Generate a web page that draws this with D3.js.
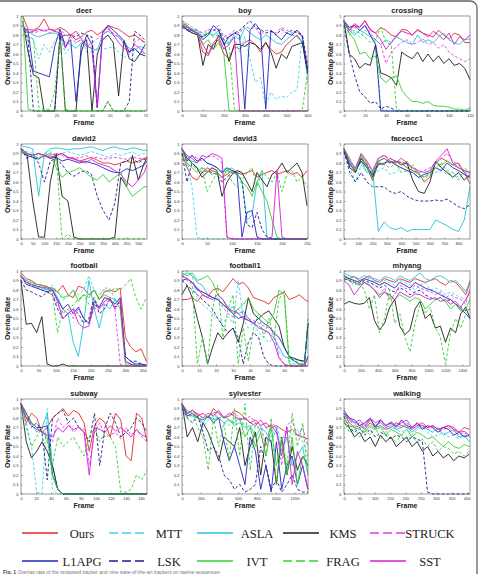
<!DOCTYPE html>
<meta charset="utf-8">
<title>Overlap rate per sequence</title>
<style>
  body { margin: 0; background: #fff; }
  text { font-family: "Liberation Sans", Arial, sans-serif; }
  .tick text { font-size: 4px; fill: #333; }
  .tick line { stroke: #444; stroke-width: 0.5px; }
  text.ptitle { font-size: 7.5px; font-weight: bold; text-anchor: middle; fill: #222; }
  text.alabel { font-size: 7px; font-weight: bold; text-anchor: middle; fill: #222; }
  text.legend { font-family: "Liberation Serif", "Times New Roman", serif; font-size: 12.5px; fill: #222; text-anchor: middle; }
  text.caption { font-size: 5px; fill: #777; }
</style>
<script src="https://d3js.org/d3.v7.min.js"></script>
<div id="chart"></div>
<script>

// series (legend order)
var seriesNames = ["Ours","MTT","ASLA","KMS","STRUCK","L1APG","LSK","IVT","FRAG","SST"];
var seriesColors = ["#e42a2a","#3fd6e6","#22c6d6","#1e1e1e","#e03ee6","#2222c4","#1c1c8c","#34cf34","#34cf34","#d41fd4"];
var seriesDashed = [false,true,false,false,true,false,true,false,true,false];

var yTicks = [0,0.1,0.2,0.3,0.4,0.5,0.6,0.7,0.8,0.9,1];

// ---- deer ----
var deerFrames = [1,4,7,10,13,16,19,22,25,28,31,34,37,40,43,46,49,52,55,58,61,64,67,70];
var deerTicks = [0,10,20,30,40,50,60,70];
var deerValues = [
  [1.0,0.86,0.85,0.88,0.97,0.86,0.85,0.88,0.85,0.8,0.75,0.78,0.83,0.85,0.8,0.84,0.9,0.88,0.86,0.82,0.78,0.8,0.76,0.72],
  [0.8,0.78,0.75,0.55,0.7,0.62,0.74,0.8,0.6,0.68,0.72,0.75,0.62,0.62,0.66,0.65,0.66,0.68,0.62,0.56,0.6,0.64,0.62,0.6],
  [0.9,0.84,0.8,0.78,0.8,0.82,0.82,0.8,0.72,0.7,0.66,0.72,0.68,0.66,0.64,0.8,0.84,0.8,0.78,0.72,0.66,0.64,0.68,0.66],
  [0.95,0.62,0.38,0.35,0,0,0,0.82,0,0,0,0.7,0.75,0,0.6,0.75,0.8,0.72,0.16,0.74,0.55,0.52,0.6,0.58],
  [0.9,0.85,0.82,0.84,0.86,0.82,0.84,0.86,0.8,0.78,0.72,0.75,0.68,0.72,0.76,0.8,0.86,0.82,0.78,0.7,0.6,0.72,0.76,0.7],
  [0.88,0.84,0.42,0.4,0.38,0.36,0.68,0.86,0.68,0.75,0.1,0.62,0.8,0.7,0.04,0.82,0.9,0.85,0.8,0.74,0.62,0.66,0.6,0.7],
  [0.9,0.75,0,0,0,0,0,0.78,0.8,0.8,0.78,0.82,0.8,0.78,0,0,0.1,0,0,0,0.1,0.84,0.8,0.74],
  [1.0,0.02,0,0,0,0,0,0,0,0,0,0,0,0,0,0,0,0,0,0,0,0,0,0],
  [0.9,0.78,0.76,0.04,0.02,0.02,0.2,0.76,0.02,0,0,0,0,0,0,0,0.1,0,0,0,0,0,0,0],
  [0.86,0.82,0.84,0.86,0.84,0.86,0.84,0.82,0.66,0.8,0.84,0.76,0.7,0.65,0.05,0.84,0.88,0.8,0.72,0.66,0.62,0.7,0.66,0.6]
];

// ---- boy ----
var boyFrames = [0,25,50,75,100,125,150,175,200,225,250,275,300,325,350,375,400,425,450,475,500,525,550,575,600];
var boyTicks = [0,100,200,300,400,500,600];
var boyValues = [
  [0.92,0.9,0.85,0.8,0.62,0.58,0.7,0.75,0.6,0.55,0.68,0.65,0.72,0.75,0.7,0.62,0.72,0.65,0.6,0.62,0.7,0.75,0.8,0.72,0.45],
  [0.95,0.88,0.85,0.82,0.78,0.85,0.8,0.82,0.74,0.72,0.78,0.62,0.78,0.55,0.3,0.35,0.06,0.2,0.12,0.16,0.14,0.2,0.22,0.8,0.3],
  [0.9,0.88,0.86,0.84,0.78,0.82,0.8,0.85,0.7,0.72,0.8,0.75,0.88,0.82,0.78,0.75,0.8,0.76,0.72,0.7,0.75,0.8,0.78,0.72,0.4],
  [0.9,0.85,0.82,0.8,0.48,0.7,0.65,0.8,0.72,0.52,0.7,0.7,0.68,0.72,0.7,0.65,0.72,0.62,0.45,0.6,0.55,0.68,0.7,0.72,0.4],
  [0.92,0.88,0.86,0.85,0.82,0.86,0.85,0.9,0.78,0.8,0.85,0.82,0.9,0.86,0.88,0.8,0.85,0.84,0.82,0.88,0.85,0.82,0.85,0.8,0.5],
  [0.9,0.86,0.84,0.82,0.75,0.8,0.9,0.85,0.7,0.78,0.82,0.8,0.02,0.85,0.92,0.85,0.02,0.85,0.8,0.75,0.82,0.8,0.85,0.78,0.42],
  [0.88,0.85,0.82,0.8,0.78,0.82,0.85,0.86,0.75,0.78,0.82,0.85,0.9,0.95,0.88,0.86,0.82,0.84,0.8,0.86,0.82,0.85,0.82,0.8,0.45],
  [0.95,0.9,0.85,0.8,0.7,0.75,0.65,0.72,0.6,0,0,0,0,0,0,0,0,0,0,0,0,0,0,0,0],
  [0.95,0.92,0.88,0.85,0.8,0.82,0.78,0.8,0.75,0.7,0.02,0,0,0,0,0,0,0,0,0,0,0,0,0.02,0.4],
  [0.9,0.88,0.85,0.82,0.7,0.6,0.72,0.78,0.65,0.7,0.78,0,0,0,0,0,0,0,0,0,0,0,0,0,0]
];

// ---- crossing ----
var crossingFrames = [0,5,10,15,20,25,30,35,40,45,50,55,60,65,70,75,80,85,90,95,100,105,110,115,120];
var crossingTicks = [0,20,40,60,80,100,120];
var crossingValues = [
  [0.95,0.85,0.92,0.88,0.95,0.85,0.82,0.88,0.85,0.8,0.78,0.86,0.85,0.8,0.86,0.82,0.8,0.78,0.85,0.8,0.76,0.82,0.8,0.72,0.72],
  [0.95,0.88,0.82,0.78,0.85,0.8,0.72,0.02,0,0,0,0,0,0,0,0,0,0,0,0,0,0,0,0,0],
  [0.95,0.85,0.8,0.85,0.82,0.78,0.75,0.7,0.75,0.72,0.78,0.75,0.72,0.7,0.8,0.72,0.75,0.72,0.78,0.82,0.75,0.72,0.7,0.75,0.76],
  [0.95,0.6,0.55,0.45,0.5,0.48,0.7,0.4,0.38,0.35,0.27,0.62,0.58,0.55,0.62,0.52,0.6,0.52,0.58,0.5,0.55,0.48,0.5,0.45,0.33],
  [0.95,0.82,0.88,0.85,0.9,0.82,0.75,0.7,0.5,0.62,0.68,0.72,0.75,0.7,0.72,0.76,0.7,0.72,0.66,0.7,0.62,0.58,0.55,0.52,0.55],
  [0.95,0.88,0.9,0.85,0.9,0.8,0.7,0,0,0,0,0,0,0,0,0,0,0,0,0,0,0,0,0,0],
  [0.9,0.6,0.38,0.2,0.15,0.08,0.1,0.02,0.05,0.03,0,0,0,0,0,0,0,0,0,0,0,0,0,0,0],
  [0.95,0.82,0.75,0.6,0.62,0.55,0.58,0.35,0.3,0.35,0.37,0.22,0.15,0.1,0.1,0.08,0.1,0.06,0.05,0.05,0.04,0.02,0.02,0.01,0.03],
  [0.95,0.8,0.85,0.82,0.78,0.72,0.75,0.88,0.72,0.7,0.02,0,0,0,0,0,0,0,0,0,0,0,0,0,0],
  [0.95,0.85,0.9,0.88,0.95,0.86,0.82,0.75,0.65,0.72,0.8,0.84,0.82,0.8,0.85,0.82,0.78,0.84,0.8,0.75,0.82,0.7,0.78,0.75,0.8]
];

// ---- david2 ----
var david2Frames = [0,25,50,75,100,125,150,175,200,225,250,275,300,325,350,375,400,425,450,475,500,525,537];
var david2Ticks = [0,50,100,150,200,250,300,350,400,450,500];
var david2Values = [
  [0.92,0.9,0.88,0.9,0.88,0.85,0.88,0.9,0.86,0.85,0.82,0.84,0.86,0.83,0.8,0.8,0.78,0.8,0.82,0.8,0.82,0.85,0.86],
  [0.95,0.92,0.9,0.88,0.9,0.92,0.88,0.9,0.92,0.9,0.88,0.9,0.92,0.9,0.88,0.86,0.9,0.88,0.9,0.92,0.88,0.9,0.9],
  [0.98,0.97,0.95,0.45,0.9,0.95,0.96,0.95,0.94,0.95,0.95,0.96,0.97,0.95,0.93,0.96,0.97,0.95,0.94,0.96,0.95,0.93,0.94],
  [0.95,0.9,0.4,0.02,0.02,0.6,0.9,0.45,0.4,0.02,0,0,0,0,0,0,0.02,0.65,0.55,0.88,0.62,0.8,0.85],
  [0.95,0.9,0.88,0.9,0.86,0.88,0.9,0.88,0.85,0.86,0.85,0.88,0.85,0.86,0.84,0.85,0.86,0.85,0.84,0.86,0.85,0.84,0.85],
  [0.92,0.88,0.86,0.84,0.88,0.85,0.86,0.82,0.84,0.82,0.8,0.82,0.8,0.78,0.75,0.72,0.7,0.7,0.74,0.72,0.75,0.78,0.82],
  [0.95,0.85,0.88,0.8,0.6,0.82,0.85,0.78,0.7,0.66,0.7,0.72,0.68,0.45,0.3,0.2,0.38,0.8,0.82,0.85,0.8,0.84,0.82],
  [0.92,0.9,0.88,0.85,0.88,0.9,0.75,0.65,0.7,0.72,0.75,0.7,0.65,0.62,0.68,0.6,0.65,0.7,0.55,0.45,0.5,0.55,0.55],
  [0.92,0.9,0.88,0.85,0.88,0.9,0.88,0,0.05,0,0,0,0,0,0,0,0,0,0,0,0,0,0],
  [0.95,0.9,0.88,0.9,0.88,0.86,0.88,0.9,0.86,0.84,0.82,0.8,0.84,0.8,0.78,0.76,0.72,0.68,0.6,0.55,0.62,0.7,0.78]
];

// ---- david3 ----
var david3Frames = [0,10,20,30,40,50,60,70,80,90,100,110,120,130,140,150,160,170,180,190,200,210,220,230,240,250];
var david3Ticks = [0,50,100,150,200,250];
var david3Values = [
  [0.9,0.75,0.65,0.62,0.7,0.75,0.72,0.7,0.65,0.68,0.72,0.7,0.68,0.7,0.72,0.65,0.68,0.7,0.72,0.68,0.7,0.72,0.68,0.7,0.65,0.72],
  [0.95,0.8,0.55,0.02,0,0,0,0,0,0,0,0,0,0,0,0,0,0,0,0,0,0,0,0,0,0],
  [0.95,0.85,0.82,0.8,0.85,0.8,0.78,0.75,0.7,0.72,0.75,0.7,0.6,0.2,0.25,0.6,0.72,0.02,0,0,0,0,0,0,0,0],
  [0.95,0.85,0.8,0.75,0.65,0.7,0.75,0.72,0.45,0.6,0.68,0.72,0.7,0.6,0.5,0.7,0.62,0.55,0.68,0.72,0.8,0.7,0.75,0.8,0.7,0.35],
  [0.95,0.85,0.88,0.85,0.82,0.86,0.88,0.85,0.8,0.02,0,0,0,0,0,0,0,0,0,0,0,0,0,0,0,0],
  [0.95,0.82,0.88,0.82,0.85,0.8,0.78,0.75,0.7,0.75,0.72,0.7,0.02,0.28,0.3,0.02,0,0,0,0,0,0,0,0,0,0],
  [0.9,0.6,0.8,0.75,0.7,0.72,0.7,0.68,0.6,0.65,0.7,0.68,0.62,0.15,0.12,0.28,0.1,0.02,0,0,0,0,0,0,0,0],
  [0.95,0.8,0.75,0.7,0.75,0.72,0.68,0.7,0.65,0.72,0.7,0.68,0.6,0.55,0.45,0.6,0.5,0.4,0.2,0.02,0,0,0,0,0,0],
  [0.95,0.75,0.8,0.72,0.75,0.5,0.6,0.7,0.72,0.75,0.6,0.55,0.62,0.7,0.75,0.55,0.72,0.65,0.6,0.7,0.5,0.68,0.72,0.6,0.65,0.55],
  [0.95,0.88,0.85,0.8,0.88,0.86,0.9,0.88,0.85,0.02,0,0,0,0,0,0,0,0,0.02,0.72,0.02,0,0,0,0,0]
];

// ---- faceocc1 ----
var faceocc1Frames = [0,40,80,120,160,200,240,280,320,360,400,440,480,520,560,600,640,680,720,760,800,840,880];
var faceocc1Ticks = [0,100,200,300,400,500,600,700,800];
var faceocc1Values = [
  [0.95,0.8,0.7,0.85,0.75,0.62,0.8,0.78,0.85,0.82,0.8,0.75,0.72,0.7,0.6,0.65,0.8,0.85,0.82,0.78,0.8,0.7,0.58],
  [0.92,0.75,0.6,0.78,0.7,0.7,0.72,0.75,0.68,0.7,0.75,0.72,0.7,0.65,0.62,0.68,0.7,0.72,0.68,0.7,0.65,0.7,0.62],
  [0.95,0.8,0.72,0.82,0.7,0.72,0.08,0.18,0.12,0.1,0.12,0.08,0.1,0.1,0.1,0.1,0.2,0.17,0.14,0.1,0.08,0.2,0.55],
  [0.95,0.75,0.7,0.85,0.78,0.65,0.82,0.85,0.8,0.82,0.78,0.8,0.62,0.5,0.48,0.6,0.82,0.75,0.7,0.65,0.7,0.62,0.68],
  [0.95,0.8,0.75,0.88,0.8,0.7,0.85,0.88,0.85,0.8,0.82,0.78,0.75,0.7,0.72,0.75,0.8,0.85,0.9,0.82,0.78,0.7,0.68],
  [0.92,0.78,0.72,0.82,0.75,0.68,0.78,0.8,0.82,0.78,0.75,0.72,0.7,0.65,0.68,0.7,0.75,0.72,0.8,0.75,0.72,0.68,0.65],
  [0.92,0.7,0.6,0.7,0.6,0.55,0.55,0.55,0.5,0.48,0.5,0.45,0.42,0.4,0.4,0.4,0.41,0.4,0.42,0.38,0.34,0.32,0.36],
  [0.95,0.85,0.72,0.88,0.75,0.7,0.82,0.85,0.8,0.82,0.78,0.82,0.72,0.68,0.65,0.7,0.8,0.78,0.82,0.78,0.75,0.72,0.7],
  [0.95,0.8,0.72,0.9,0.8,0.6,0.82,0.78,0.75,0.8,0.7,0.72,0.78,0.7,0.65,0.68,0.75,0.8,0.72,0.7,0.62,0.75,0.7],
  [0.95,0.82,0.75,0.9,0.82,0.72,0.85,0.88,0.82,0.8,0.85,0.8,0.75,0.72,0.7,0.72,0.82,0.88,0.95,0.8,0.75,0.72,0.7]
];

// ---- football ----
var footballFrames = [0,15,30,45,60,75,90,105,120,135,150,165,180,195,210,225,240,255,270,285,300,315,330,345,360];
var footballTicks = [0,50,100,150,200,250,300,350];
var footballValues = [
  [0.98,0.92,0.9,0.86,0.85,0.83,0.82,0.78,0.85,0.75,0.72,0.84,0.82,0.75,0.8,0.7,0.78,0.8,0.78,0.82,0.3,0.2,0.15,0.18,0.05],
  [0.95,0.9,0.88,0.85,0.82,0.8,0.85,0.78,0.7,0.72,0.8,0.75,0.8,0.95,0.8,0.75,0.82,0.82,0.7,0.65,0.05,0.02,0.02,0.03,0],
  [0.95,0.88,0.86,0.84,0.82,0.8,0.82,0.72,0.6,0.55,0.25,0.1,0.45,0.9,0.6,0.4,0.65,0.6,0.7,0.65,0.05,0.02,0,0.02,0.01],
  [0.9,0.44,0.45,0.35,0.52,0.02,0,0,0.02,0,0,0,0,0,0,0,0,0,0,0,0,0,0,0,0],
  [0.95,0.88,0.85,0.82,0.8,0.78,0.75,0.65,0.55,0.6,0.5,0.6,0.5,0.45,0.6,0.62,0.65,0.7,0.6,0.02,0,0,0,0,0],
  [0.95,0.86,0.84,0.82,0.8,0.78,0.8,0.7,0.6,0.65,0.55,0.62,0.5,0.45,0.68,0.62,0.72,0.7,0.65,0.72,0.1,0.05,0.02,0.02,0.01],
  [0.9,0.8,0.78,0.75,0.73,0.78,0.75,0.6,0.5,0.55,0.6,0.55,0.45,0.5,0.72,0.55,0.6,0.7,0.62,0.68,0.1,0.05,0.05,0.02,0],
  [0.95,0.9,0.88,0.86,0.85,0.84,0.8,0.78,0.72,0.74,0.8,0.68,0.75,0.72,0.8,0.7,0.75,0.72,0.7,0.6,0.02,0.02,0.01,0.01,0],
  [0.95,0.88,0.86,0.82,0.85,0.8,0.78,0.35,0.6,0.55,0.65,0.7,0.75,0.65,0.6,0.75,0.8,0.78,0.82,0.8,0.85,0.92,0.72,0.6,0.72],
  [0.95,0.88,0.86,0.84,0.83,0.82,0.8,0.68,0.5,0.55,0.6,0.45,0.4,0.42,0.65,0.6,0.68,0.72,0.6,0.7,0.05,0.02,0,0,0]
];

// ---- football1 ----
var football1Frames = [0,3,6,9,12,15,18,21,24,27,30,33,36,39,42,45,48,51,54,57,60,63,66,69,72,74];
var football1Ticks = [0,10,20,30,40,50,60,70];
var football1Values = [
  [0.7,0.7,0.72,0.68,0.75,0.72,0.8,0.82,0.78,0.85,0.92,0.86,0.88,0.82,0.72,0.7,0.68,0.65,0.72,0.75,0.78,0.7,0.72,0.75,0.7,0.68],
  [0.95,1.0,0.95,0.7,0.65,0.6,0.55,0.5,0.45,0.52,0.45,0.9,0.5,0.4,0.45,0.35,0.3,0.25,0.3,0.15,0.1,0.08,0.05,0.05,0.05,0.4],
  [0.95,0.98,0.95,0.88,0.85,0.75,0.72,0.7,0.65,0.6,0.62,0.55,0.58,0.5,0.45,0.42,0.38,0.35,0.3,0.2,0.1,0.08,0.07,0.06,0.05,0.45],
  [0.75,0.85,0.72,0.5,0.3,0.02,0.2,0.35,0.28,0.35,0.4,0.25,0.45,0.72,0.55,0.5,0.55,0.58,0.5,0.42,0.2,0.1,0.08,0.06,0.05,0.45],
  [0.95,0.9,0.88,0.82,0.78,0.75,0.72,0.7,0.62,0.55,0.52,0.6,0.55,0.5,0.48,0.45,0.42,0.4,0.35,0.1,0.02,0,0,0,0,0.1],
  [0.9,0.92,0.88,0.8,0.78,0.75,0.72,0.7,0.65,0.6,0.55,0.5,0.52,0.48,0.45,0.5,0.45,0.42,0.35,0.3,0.2,0.1,0.05,0.02,0.02,0.45],
  [0.9,0.85,0.8,0.75,0.7,0.65,0.6,0.5,0.42,0.35,0.4,0.3,0.02,0.25,0.35,0.3,0.1,0.02,0,0,0,0,0,0,0,0],
  [0.98,0.95,0.98,0.9,0.92,0.95,0.88,0.75,0.7,0.62,0.55,0.6,0.65,0.72,0.6,0.55,0.5,0.45,0.55,0.8,0.75,0.02,0,0,0,0.1],
  [0.95,0.92,0.85,0.02,0.3,0.02,0.6,0.85,0.3,0.6,0.75,0.02,0.4,0.05,0.4,0.55,0.3,0.5,0.3,0.7,0.8,0.05,0.02,0.02,0.02,0.5],
  [0.95,0.92,0.88,0.82,0.75,0.72,0.7,0.75,0.7,0.6,0.58,0.55,0.5,0.48,0.45,0.4,0.38,0.35,0.25,0.08,0.02,0,0,0,0,0.1]
];

// ---- mhyang ----
var mhyangFrames = [0,60,120,180,240,300,360,420,480,540,600,660,720,780,840,900,960,1020,1080,1140,1200,1260,1320,1380,1440,1490];
var mhyangTicks = [0,200,400,600,800,1000,1200,1400];
var mhyangValues = [
  [0.95,0.92,0.94,0.9,0.92,0.95,0.9,0.88,0.92,0.9,0.88,0.92,0.9,0.88,0.92,0.9,0.88,0.9,0.92,0.88,0.85,0.9,0.88,0.82,0.75,0.88],
  [0.95,0.92,0.9,0.88,0.9,0.92,0.88,0.85,0.9,0.88,0.85,0.9,0.88,0.85,0.8,0.85,0.88,0.8,0.82,0.8,0.75,0.78,0.75,0.72,0.7,0.8],
  [0.98,0.95,0.94,0.92,0.95,0.93,0.92,0.9,0.94,0.93,0.9,0.95,0.92,0.9,0.94,0.98,0.92,0.9,0.94,0.95,0.92,0.88,0.9,0.85,0.78,0.9],
  [0.65,0.68,0.66,0.65,0.66,0.72,0.48,0.38,0.45,0.62,0.7,0.42,0.33,0.38,0.6,0.68,0.5,0.55,0.4,0.42,0.25,0.4,0.35,0.55,0.62,0.5],
  [0.92,0.9,0.88,0.9,0.88,0.85,0.8,0.75,0.82,0.7,0.75,0.85,0.82,0.8,0.85,0.82,0.8,0.78,0.75,0.78,0.72,0.75,0.72,0.7,0.65,0.82],
  [0.95,0.92,0.9,0.88,0.92,0.9,0.88,0.85,0.88,0.85,0.82,0.88,0.85,0.82,0.88,0.85,0.82,0.8,0.78,0.75,0.72,0.7,0.65,0.6,0.55,0.5],
  [0.92,0.9,0.88,0.86,0.9,0.88,0.85,0.82,0.85,0.8,0.78,0.82,0.8,0.75,0.78,0.8,0.75,0.72,0.7,0.72,0.68,0.7,0.65,0.62,0.58,0.6],
  [0.95,0.9,0.88,0.85,0.88,0.85,0.8,0.75,0.78,0.72,0.7,0.75,0.72,0.68,0.72,0.7,0.6,0.65,0.7,0.72,0.68,0.6,0.65,0.58,0.6,0.7],
  [0.95,0.9,0.85,0.88,0.8,0.6,0.75,0.35,0.5,0.8,0.45,0.55,0.3,0.15,0.45,0.65,0.55,0.62,0.4,0.3,0.02,0.35,0.5,0.4,0.55,0.6],
  [0.9,0.85,0.75,0.82,0.88,0.85,0.8,0.72,0.78,0.75,0.7,0.78,0.75,0.72,0.76,0.75,0.72,0.7,0.72,0.68,0.7,0.65,0.68,0.62,0.7,0.78]
];

// ---- subway ----
var subwayFrames = [0,7,14,21,28,35,42,49,56,63,70,77,84,91,98,105,112,119,126,133,140,147,154,161,168];
var subwayTicks = [0,20,40,60,80,100,120,140,160];
var subwayValues = [
  [0.95,0.75,0.85,0.8,0.65,0.7,0.8,0.85,0.9,0.82,0.88,0.85,0.75,0.45,0.72,0.8,0.75,0.6,0.85,0.78,0.4,0.35,0.85,0.8,0.55],
  [0.95,0.75,0.5,0.02,0,0.9,0.05,0,0,0,0,0,0,0,0,0,0,0,0,0,0,0,0,0,0],
  [0.95,0.8,0.75,0.65,0.7,0.85,0.3,0.05,0,0,0,0,0,0,0,0,0,0,0,0,0,0,0,0,0],
  [0.95,0.55,0.38,0.45,0.55,0.45,0.3,0.05,0,0,0,0,0,0,0,0,0,0,0,0,0,0,0,0,0],
  [0.95,0.8,0.75,0.7,0.65,0.6,0.55,0.8,0.7,0.75,0.65,0.7,0.68,0.3,0.65,0.75,0.6,0.62,0.65,0.58,0.7,0.62,0.68,0.6,0.55],
  [0.95,0.85,0.75,0.7,0.7,0.72,0.2,0.05,0,0,0,0,0,0,0,0,0,0,0,0,0,0,0,0,0],
  [0.95,0.85,0.7,0.75,0.65,0.15,0.8,0.85,0.88,0.75,0.8,0.7,0.65,0.55,0.85,0.3,0.7,0.85,0.75,0.6,0.65,0.7,0.8,0.75,0.65],
  [0.95,0.85,0.75,0.7,0.65,0.6,0.2,0.05,0,0,0,0,0,0,0,0,0,0,0,0,0,0,0,0,0],
  [0.9,0.7,0.5,0.6,0.7,0.55,0.3,0.6,0.5,0.55,0.6,0.5,0.4,0.6,0.7,0.55,0.65,0.6,0.5,0.02,0.02,0.05,0.2,0.15,0.25],
  [0.95,0.8,0.72,0.68,0.65,0.62,0.6,0.7,0.65,0.72,0.68,0.7,0.65,0.2,0.7,0.68,0.65,0.72,0.66,0.7,0.65,0.6,0.68,0.62,0.6]
];

// ---- sylvester ----
var sylvesterFrames = [0,56,112,168,224,280,336,392,448,504,560,616,672,728,784,840,896,952,1008,1064,1120,1176,1232,1288,1344];
var sylvesterTicks = [0,200,400,600,800,1000,1200];
var sylvesterValues = [
  [0.95,0.85,0.88,0.82,0.85,0.8,0.9,0.85,0.8,0.82,0.88,0.85,0.8,0.75,0.78,0.72,0.75,0.7,0.72,0.68,0.65,0.68,0.62,0.6,0.58],
  [0.9,0.85,0.8,0.82,0.7,0.78,0.82,0.8,0.75,0.72,0.8,0.78,0.72,0.7,0.75,0.68,0.7,0.6,0.72,0.55,0.7,0.62,0.68,0.55,0.4],
  [0.9,0.85,0.82,0.8,0.75,0.82,0.78,0.8,0.75,0.78,0.72,0.75,0.7,0.72,0.6,0.7,0.65,0.55,0.68,0.45,0.6,0.3,0.4,0.5,0.2],
  [0.95,0.6,0.7,0.55,0.75,0.65,0.5,0.35,0.6,0.55,0.5,0.7,0.3,0.5,0.65,0.2,0.6,0.55,0.1,0.6,0.2,0.5,0.25,0.4,0.3],
  [0.92,0.85,0.82,0.85,0.8,0.82,0.86,0.85,0.8,0.82,0.85,0.8,0.78,0.82,0.75,0.72,0.5,0.75,0.7,0.3,0.72,0.78,0.6,0.7,0.5],
  [0.95,0.82,0.85,0.8,0.78,0.82,0.75,0.8,0.55,0.35,0.5,0.3,0.1,0.6,0.45,0.05,0.3,0.02,0.55,0.05,0.3,0.4,0.1,0.3,0.05],
  [0.9,0.8,0.75,0.82,0.65,0.45,0.5,0.4,0.2,0.15,0.05,0.1,0.02,0.05,0.1,0.5,0.3,0.05,0.15,0.02,0.1,0.2,0.05,0.02,0.02],
  [0.95,0.88,0.85,0.8,0.78,0.82,0.85,0.8,0.82,0.78,0.75,0.8,0.6,0.7,0.5,0.65,0.4,0.7,0.3,0.55,0.2,0.6,0.1,0.4,0.3],
  [0.92,0.8,0.85,0.7,0.6,0.25,0.8,0.5,0.75,0.35,0.9,0.4,0.95,0.25,0.75,0.65,0.4,0.8,0.1,0.6,0.3,0.85,0.5,0.75,0.2],
  [0.95,0.85,0.88,0.84,0.8,0.85,0.82,0.88,0.8,0.85,0.82,0.78,0.8,0.75,0.72,0.78,0.7,0.72,0.65,0.4,0.7,0.1,0.45,0.3,0.05]
];

// ---- walking ----
var walkingFrames = [0,17,34,51,68,85,102,119,136,153,170,187,204,221,238,255,272,289,306,323,340,357,374,391,408];
var walkingTicks = [0,50,100,150,200,250,300,350,400];
var walkingValues = [
  [0.85,0.75,0.7,0.72,0.68,0.75,0.7,0.72,0.68,0.7,0.75,0.72,0.7,0.68,0.72,0.75,0.7,0.72,0.68,0.7,0.72,0.7,0.65,0.7,0.68],
  [0.8,0.72,0.68,0.7,0.65,0.7,0.68,0.72,0.65,0.7,0.68,0.65,0.7,0.62,0.68,0.7,0.65,0.6,0.62,0.65,0.6,0.62,0.58,0.62,0.6],
  [0.85,0.78,0.75,0.72,0.7,0.78,0.72,0.75,0.7,0.72,0.68,0.7,0.72,0.65,0.7,0.72,0.68,0.65,0.7,0.62,0.65,0.68,0.6,0.62,0.55],
  [0.75,0.7,0.6,0.65,0.55,0.6,0.5,0.62,0.55,0.6,0.5,0.55,0.6,0.5,0.55,0.45,0.5,0.4,0.45,0.38,0.42,0.35,0.4,0.38,0.42],
  [0.85,0.78,0.72,0.75,0.7,0.78,0.72,0.76,0.7,0.74,0.72,0.7,0.75,0.68,0.72,0.7,0.68,0.7,0.65,0.68,0.7,0.66,0.62,0.65,0.6],
  [0.88,0.8,0.78,0.72,0.75,0.8,0.7,0.78,0.72,0.75,0.7,0.78,0.72,0.7,0.75,0.68,0.72,0.7,0.65,0.7,0.68,0.62,0.65,0.6,0.62],
  [0.82,0.7,0.65,0.7,0.62,0.68,0.6,0.65,0.62,0.58,0.62,0.6,0.55,0.6,0.58,0.55,0.02,0,0,0,0,0,0,0,0],
  [0.8,0.72,0.7,0.68,0.65,0.72,0.68,0.7,0.62,0.68,0.65,0.62,0.68,0.6,0.65,0.62,0.58,0.6,0.55,0.5,0.55,0.5,0.48,0.52,0.5],
  [0.78,0.65,0.7,0.6,0.68,0.62,0.7,0.58,0.65,0.6,0.55,0.62,0.58,0.6,0.55,0.58,0.5,0.55,0.45,0.5,0.48,0.42,0.45,0.4,0.45],
  [0.85,0.8,0.75,0.78,0.72,0.8,0.75,0.78,0.72,0.76,0.72,0.75,0.78,0.7,0.74,0.72,0.7,0.72,0.68,0.7,0.72,0.68,0.65,0.66,0.62]
];

var panels = [
  {title: "deer", frames: deerFrames, values: deerValues, ticks: deerTicks, xMax: 71},
  {title: "boy", frames: boyFrames, values: boyValues, ticks: boyTicks, xMax: 602},
  {title: "crossing", frames: crossingFrames, values: crossingValues, ticks: crossingTicks, xMax: 120},
  {title: "david2", frames: david2Frames, values: david2Values, ticks: david2Ticks, xMax: 537},
  {title: "david3", frames: david3Frames, values: david3Values, ticks: david3Ticks, xMax: 252},
  {title: "faceocc1", frames: faceocc1Frames, values: faceocc1Values, ticks: faceocc1Ticks, xMax: 880},
  {title: "football", frames: footballFrames, values: footballValues, ticks: footballTicks, xMax: 362},
  {title: "football1", frames: football1Frames, values: football1Values, ticks: football1Ticks, xMax: 74},
  {title: "mhyang", frames: mhyangFrames, values: mhyangValues, ticks: mhyangTicks, xMax: 1490},
  {title: "subway", frames: subwayFrames, values: subwayValues, ticks: subwayTicks, xMax: 168},
  {title: "sylvester", frames: sylvesterFrames, values: sylvesterValues, ticks: sylvesterTicks, xMax: 1345},
  {title: "walking", frames: walkingFrames, values: walkingValues, ticks: walkingTicks, xMax: 410}
];

// layout of the 3x4 grid
var colX = [21, 182, 344],
    rowY = [16, 144, 271, 399],
    plotW = 126,
    plotH = 95;

var svg = d3.select("#chart")
  .append("svg")
    .attr("width", 480)
    .attr("height", 574);

svg.append("rect")
  .attr("width", 480).attr("height", 574)
  .attr("fill", "#fff");

// outer frame of the figure
svg.append("rect")
  .attr("x", -10).attr("y", 1)
  .attr("width", 487).attr("height", 620)
  .attr("rx", 7)
  .attr("fill", "none")
  .attr("stroke", "#666")
  .attr("stroke-width", 1.3);

var y = d3.scaleLinear().domain([0, 1]).range([plotH, 0]);

panels.forEach(function(p, i) {
  var g = svg.append("g")
    .attr("transform", "translate(" + colX[i % 3] + "," + rowY[Math.floor(i / 3)] + ")");

  var x = d3.scaleLinear().domain([0, p.xMax]).range([0, plotW]);

  g.append("rect")
    .attr("width", plotW).attr("height", plotH)
    .attr("fill", "#fff");

  // axes, ticks point inward like matlab
  var xAxis = g.append("g")
    .attr("transform", "translate(0," + plotH + ")")
    .call(d3.axisBottom(x).tickValues(p.ticks).tickSize(-1.5).tickPadding(3)
      .tickFormat(function(d) { return String(d); }));
  xAxis.select(".domain").remove();

  var yAxis = g.append("g")
    .call(d3.axisLeft(y).tickValues(yTicks).tickSize(-1.5).tickPadding(2.5)
      .tickFormat(function(d) { return String(d); }));
  yAxis.select(".domain").remove();

  var line = d3.line()
    .defined(function(d) { return d[1] != null; })
    .x(function(d) { return x(d[0]); })
    .y(function(d) { return y(d[1]); });

  p.values.forEach(function(vals, s) {
    var pts = p.frames.map(function(f, k) { return [f, vals[k]]; });
    g.append("path")
      .datum(pts)
      .attr("d", line)
      .attr("fill", "none")
      .attr("stroke", seriesColors[s])
      .attr("stroke-width", 0.9)
      .attr("stroke-linejoin", "round")
      .attr("stroke-dasharray", seriesDashed[s] ? "3,2" : null);
  });

  // box
  g.append("rect")
    .attr("width", plotW).attr("height", plotH)
    .attr("fill", "none")
    .attr("stroke", "#555")
    .attr("stroke-width", 0.6);

  g.append("text")
    .attr("class", "ptitle")
    .attr("x", plotW / 2)
    .attr("y", -3)
    .text(p.title);

  g.append("text")
    .attr("class", "alabel")
    .attr("x", plotW / 2)
    .attr("y", plotH + 14)
    .text("Frame");

  g.append("text")
    .attr("class", "alabel")
    .attr("transform", "translate(-11," + (plotH / 2) + ") rotate(-90)")
    .text("Overlap Rate");
});

// legend, two rows of five
var legendX = [22, 109, 197, 283, 370],
    legendY = [533, 561];

seriesNames.forEach(function(name, s) {
  var lx = legendX[s % 5], ly = legendY[Math.floor(s / 5)];
  svg.append("line")
    .attr("x1", lx).attr("x2", lx + 36)
    .attr("y1", ly).attr("y2", ly)
    .attr("stroke", seriesColors[s])
    .attr("stroke-width", 1.5)
    .attr("stroke-dasharray", seriesDashed[s] ? "9,4" : null);
  svg.append("text")
    .attr("class", "legend")
    .attr("x", lx + 60)
    .attr("y", ly + 4.5)
    .text(name);
});

svg.append("text")
  .attr("class", "caption")
  .attr("x", 3)
  .attr("y", 573.5)
  .html("<tspan font-weight='bold' fill='#444'>Fig. 1</tspan> Overlap rate of the proposed tracker and nine state-of-the-art trackers on twelve sequences");

</script>
